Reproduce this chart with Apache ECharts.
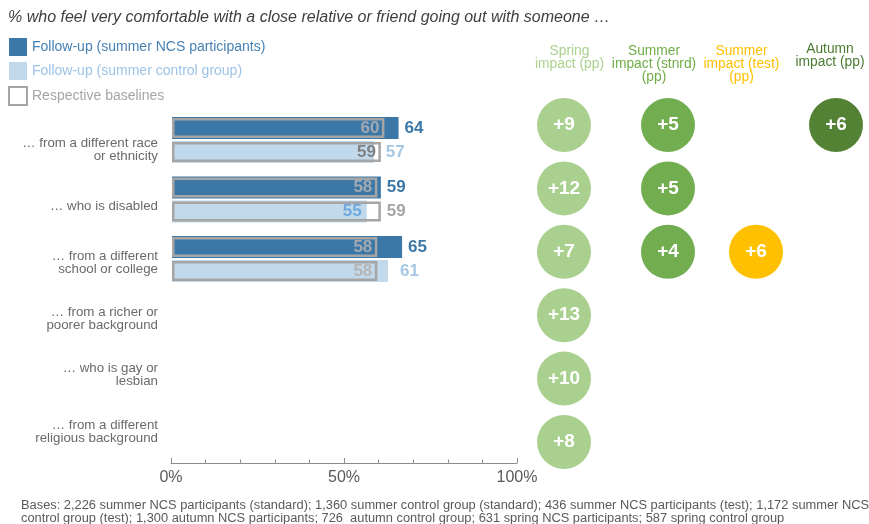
<!DOCTYPE html>
<html><head><meta charset="utf-8">
<script src="https://cdn.jsdelivr.net/npm/echarts@6/dist/echarts.min.js"></script>
<style>html,body{margin:0;padding:0;background:#fff}#c{width:869px;height:524px}</style>
</head><body><div id="c"></div>
<script>
// ---------- data ----------
const titleText = '% who feel very comfortable with a close relative or friend going out with someone …';
const basesText = 'Bases: 2,226 summer NCS participants (standard); 1,360 summer control group (standard); 436 summer NCS participants (test); 1,172 summer NCS\ncontrol group (test); 1,300 autumn NCS participants; 726  autumn control group; 631 spring NCS participants; 587 spring control group';
const categories = [
  '… from a different race\nor ethnicity',
  '… who is disabled',
  '… from a different\nschool or college',
  '… from a richer or\npoorer background',
  '… who is gay or\nlesbian',
  '… from a different\nreligious background'
];
const legendNames = ['Follow-up (summer NCS participants)', 'Follow-up (summer control group)', 'Respective baselines'];
const ncsFollowUp     = [64, 59, 65, null, null, null];
const controlFollowUp = [57, 55, 61, null, null, null];
const ncsBaseline     = [60, 58, 58, null, null, null];
const controlBaseline = [59, 59, 58, null, null, null];
const axisTickValues = [0, 50, 100];
const impactHeaders = ['Spring\nimpact (pp)', 'Summer\nimpact (stnrd)\n(pp)', 'Summer\nimpact (test)\n(pp)', 'Autumn\nimpact (pp)'];
const springImpact     = [9, 12, 7, 13, 10, 8];
const summerStdImpact  = [5, 5, 4, null, null, null];
const summerTestImpact = [null, null, 6, null, null, null];
const autumnImpact     = [6, null, null, null, null, null];

// ---------- styling ----------
const FONT = "'Liberation Sans', Arial, Helvetica, sans-serif";
const NCS = '#3C78A7', CTRL = '#C1D9EA', CTRL_TXT = '#A6C8E4', GREY = '#A5A5A5';
const impactSeries = [springImpact, summerStdImpact, summerTestImpact, autumnImpact];
const colCenters = [564, 668, 756, 836];
const headerShift = [5.5, -14, -14.5, -6];
const headerTop = [45, 45, 45, 43];
const headerColors = ['#A9D18E', '#70AD47', '#FFC000', '#4A7A30'];
const circleColors = ['#A9D08E', '#72AD50', '#FFC000', '#548235'];
const swapRow = 1; // control row where the follow-up label sits inside, baseline outside
const ctrlInsideColors = ['#808080', '#6FA8DC', '#B5B5B5'];

const outLabel = (color, dist) => ({show: true, position: 'right', distance: dist, color, fontSize: 17, fontWeight: 'bold', fontFamily: FONT, formatter: '{c}'});
const inLabel = (color) => ({show: true, position: 'insideRight', distance: 5, color, fontSize: 17, fontWeight: 'bold', fontFamily: FONT, formatter: '{c}'});

const ctrlData = controlFollowUp.map((v, i) => v == null ? null : {
  value: v,
  label: i === swapRow ? inLabel(ctrlInsideColors[i]) : outLabel(CTRL_TXT, 12)
});
const ctrlBaseData = controlBaseline.map((v, i) => v == null ? null : {
  value: v,
  label: i === swapRow ? outLabel(GREY, 6) : inLabel(ctrlInsideColors[i])
});

const G = {outerBoundsMode: 'none', containLabel: false};
const grids = [
  Object.assign({left: 172, top: 110.25, width: 354, height: 357}, G),      // bars
  Object.assign({left: 171, top: 121.85, width: 10, height: 337.8}, G),     // category labels
  Object.assign({left: 171, top: 440, width: 346, height: 23}, G)           // visible % axis
];
const xAxes = [
  {gridIndex: 0, type: 'value', min: 0, max: 100, show: false},
  {gridIndex: 1, type: 'value', show: false},
  {gridIndex: 2, type: 'value', min: 0, max: 100, interval: 50,
   axisLine: {show: true, lineStyle: {color: '#8C8C8C', width: 1}},
   axisTick: {show: true, inside: true, length: 5, lineStyle: {color: '#8C8C8C'}},
   minorTick: {show: true, splitNumber: 5, length: 3.5, lineStyle: {color: '#8C8C8C'}},
   splitLine: {show: false},
   axisLabel: {color: '#595959', fontSize: 16, fontFamily: FONT, margin: 7,
     formatter: v => axisTickValues.includes(v) ? v + '%' : ''}}
];
const yAxes = [
  {gridIndex: 0, type: 'category', data: categories, inverse: true, show: false},
  {gridIndex: 0, type: 'category', data: categories, inverse: true, show: false},
  {gridIndex: 1, type: 'category', data: categories, inverse: true,
   axisLine: {show: false}, axisTick: {show: false},
   axisLabel: {color: '#6A6A6A', fontSize: 13.3, lineHeight: 13, fontFamily: FONT, margin: 13, align: 'right'}},
  {gridIndex: 2, type: 'value', show: false}
];
const series = [
  {name: legendNames[0], type: 'bar', xAxisIndex: 0, yAxisIndex: 0, data: ncsFollowUp,
   barWidth: 22, barGap: '9%', itemStyle: {color: NCS}, label: outLabel(NCS, 6), z: 2},
  {name: legendNames[1], type: 'bar', xAxisIndex: 0, yAxisIndex: 0, data: ctrlData,
   barWidth: 22, barGap: '9%', itemStyle: {color: CTRL}, z: 2},
  {name: legendNames[2], type: 'bar', xAxisIndex: 0, yAxisIndex: 1, data: ncsBaseline,
   barWidth: 20, barGap: '20%', itemStyle: {color: 'rgba(0,0,0,0)', borderColor: GREY, borderWidth: 2.5},
   label: inLabel('#A3A9B1'), z: 3},
  {name: legendNames[2], type: 'bar', xAxisIndex: 0, yAxisIndex: 1, data: ctrlBaseData,
   barWidth: 20, barGap: '20%', itemStyle: {color: 'rgba(0,0,0,0)', borderColor: GREY, borderWidth: 2.5}, z: 3}
];

impactSeries.forEach((vals, k) => {
  const gi = grids.length;
  const gTop = 93.3;
  grids.push(Object.assign({left: colCenters[k] - 30, width: 60, top: gTop, height: 380.4}, G));
  const pad = headerShift[k] >= 0 ? [0, 0, 0, headerShift[k] * 2] : [0, -headerShift[k] * 2, 0, 0];
  xAxes.push({gridIndex: gi, type: 'category', data: [impactHeaders[k]], position: 'top',
    axisLine: {show: false}, axisTick: {show: false}, splitLine: {show: false},
    axisLabel: {color: headerColors[k], fontSize: 13.8, lineHeight: 12.8, fontFamily: FONT,
      verticalAlign: 'top', margin: gTop - headerTop[k], padding: pad, interval: 0}});
  yAxes.push({gridIndex: gi, type: 'category', data: categories, inverse: true, show: false});
  series.push({type: 'scatter', xAxisIndex: xAxes.length - 1, yAxisIndex: yAxes.length - 1,
    symbolSize: 54, itemStyle: {color: circleColors[k], opacity: 1},
    data: vals.map((v, i) => v == null ? null : [impactHeaders[k], categories[i], v]).filter(d => d),
    label: {show: true, position: 'inside', color: '#fff', fontSize: 19, fontWeight: 'bold', fontFamily: FONT,
      formatter: p => '+' + p.value[2]}});
});

const option = {
  animation: false,
  backgroundColor: '#fff',
  title: [
    {text: titleText, left: 8, top: 10, padding: 0,
     textStyle: {fontStyle: 'italic', fontWeight: 'normal', fontSize: 16, color: '#404040', fontFamily: FONT}},
    {text: basesText, left: 21, top: 498.5, padding: 0,
     textStyle: {fontWeight: 'normal', fontSize: 12.85, lineHeight: 13, color: '#595959', fontFamily: FONT}}
  ],
  legend: {
    orient: 'vertical', left: 8, top: 38, padding: 0, itemWidth: 18, itemHeight: 18, itemGap: 6,
    icon: 'rect', selectedMode: false,
    textStyle: {fontSize: 14, fontFamily: FONT},
    data: [
      {name: legendNames[0], textStyle: {color: '#4682B4'}},
      {name: legendNames[1], textStyle: {color: '#9DC3E6'}},
      {name: legendNames[2], textStyle: {color: GREY}, itemStyle: {color: '#fff', borderColor: GREY, borderWidth: 2}}
    ]
  },
  grid: grids,
  xAxis: xAxes,
  yAxis: yAxes,
  series
};
echarts.init(document.getElementById('c'), null, {renderer: 'canvas'}).setOption(option);
</script>
</body></html>
